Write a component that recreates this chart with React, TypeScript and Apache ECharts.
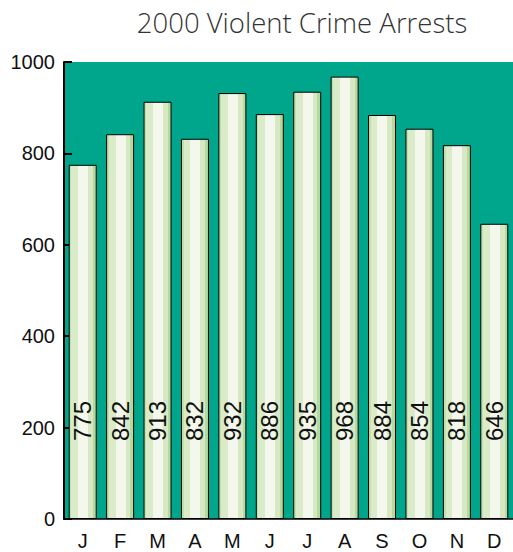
import React, { useEffect, useRef } from "react";
import * as echarts from "echarts";

const months = ["J", "F", "M", "A", "M", "J", "J", "A", "S", "O", "N", "D"];
const arrests = [775, 842, 913, 832, 932, 886, 935, 968, 884, 854, 818, 646];
const titleText = "2000 Violent Crime Arrests";

export default function App() {
  const ref = useRef<HTMLDivElement>(null);
  useEffect(() => {
    if (!ref.current) return;
    const chart = echarts.init(ref.current, undefined, { renderer: "svg" });
    const barColor = new echarts.graphic.LinearGradient(0, 0, 1, 0, [
      { offset: 0, color: "#c5dfab" },
      { offset: 0.08, color: "#c5dfab" },
      { offset: 0.08, color: "#d9ebc8" },
      { offset: 0.33, color: "#d9ebc8" },
      { offset: 0.33, color: "#f4f8ec" },
      { offset: 0.7, color: "#f4f8ec" },
      { offset: 0.7, color: "#d6e9c4" },
      { offset: 0.88, color: "#d6e9c4" },
      { offset: 0.88, color: "#b9d99c" },
      { offset: 1, color: "#b9d99c" },
    ]);
    chart.setOption({
      animation: false,
      backgroundColor: "#ffffff",
      title: {
        text: titleText,
        left: 297,
        textAlign: "center",
        top: 3,
        textStyle: {
          fontFamily: "Open Sans",
          fontWeight: 300,
          fontSize: 27.5,
          color: "#333333",
        },
      },
      grid: {
        left: 64,
        top: 62,
        width: 457,
        height: 457,
        show: true,
        backgroundColor: "#00a68c",
        borderWidth: 0,
      },
      xAxis: {
        type: "category",
        data: months,
        axisLine: { lineStyle: { color: "#000", width: 1.5 } },
        axisTick: { inside: true, length: 8, lineStyle: { color: "#000", width: 1.5 } },
        axisLabel: {
          margin: 12,
          fontFamily: "Liberation Sans, Arial, sans-serif",
          fontSize: 20,
          color: "#111",
        },
      },
      yAxis: {
        type: "value",
        min: 0,
        max: 1000,
        interval: 200,
        splitLine: { show: false },
        axisLine: { show: true, lineStyle: { color: "#000", width: 2 } },
        axisTick: { show: true, inside: true, length: 8, lineStyle: { color: "#000", width: 2 } },
        axisLabel: {
          margin: 9,
          formatter: (v: number) => String(v),
          fontFamily: "Liberation Sans, Arial, sans-serif",
          fontSize: 20,
          color: "#111",
        },
      },
      series: [
        {
          type: "bar",
          data: arrests,
          barWidth: 28,
          itemStyle: { color: barColor, borderColor: "#000", borderWidth: 1 },
          label: {
            show: true,
            position: "insideBottom",
            distance: 78,
            rotate: 90,
            align: "left",
            verticalAlign: "middle",
            fontFamily: "Liberation Sans, Arial, sans-serif",
            fontSize: 24,
            color: "#111",
          },
        },
      ],
    });
    return () => chart.dispose();
  }, []);
  return (
    <div
      ref={ref}
      style={{ position: "fixed", left: 0, top: 0, width: 513, height: 552 }}
    />
  );
}
